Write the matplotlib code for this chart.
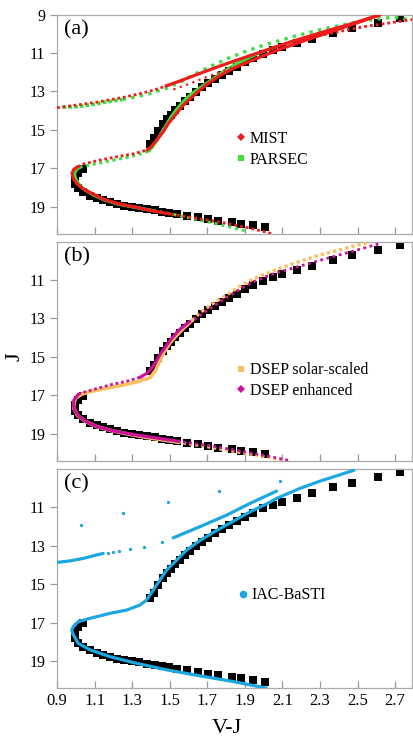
import matplotlib.pyplot as plt
from matplotlib.lines import Line2D

plt.rcParams['font.family'] = ['Liberation Serif', 'DejaVu Serif']

# Observed fiducial sequence (V-J, J)
fid = [(2.724, 9.17), (2.609, 9.42), (2.473, 9.71), (2.370, 9.95), (2.255, 10.26),
       (2.180, 10.49), (2.100, 10.70), (2.051, 10.87), (1.997, 11.05), (1.941, 11.27),
       (1.900, 11.49), (1.856, 11.71), (1.816, 11.92), (1.776, 12.14), (1.740, 12.35),
       (1.705, 12.58), (1.670, 12.79), (1.639, 13.01), (1.607, 13.27), (1.581, 13.48),
       (1.554, 13.74), (1.528, 13.96), (1.505, 14.21), (1.484, 14.43), (1.465, 14.69),
       (1.440, 15.04), (1.416, 15.43), (1.395, 15.72),
       (1.040, 17.02), (1.013, 17.24), (0.995, 17.52), (0.996, 17.80), (1.013, 18.05),
       (1.040, 18.25), (1.076, 18.43), (1.111, 18.56), (1.146, 18.67), (1.182, 18.77),
       (1.218, 18.86), (1.256, 18.94), (1.297, 18.99), (1.338, 19.06), (1.377, 19.13),
       (1.420, 19.19), (1.457, 19.25), (1.497, 19.32), (1.537, 19.39), (1.590, 19.48),
       (1.652, 19.56), (1.705, 19.64), (1.758, 19.72), (1.829, 19.81), (1.882, 19.89),
       (1.941, 19.96), (2.006, 20.07)]

# MIST isochrone pieces
mist_ms = [(2.04, 20.39), (1.97, 20.22), (1.91, 20.08), (1.85, 19.96), (1.79, 19.84),
           (1.73, 19.74), (1.67, 19.65), (1.59, 19.52), (1.50, 19.38)]
mist_lower = [(1.50, 19.38), (1.41, 19.22), (1.32, 19.03), (1.22, 18.83), (1.15, 18.62),
              (1.09, 18.33), (1.04, 18.07), (1.005, 17.80), (0.985, 17.50), (0.980, 17.25),
              (0.99, 17.05), (1.01, 16.92)]
mist_sgb = [(1.01, 16.92), (1.04, 16.78), (1.13, 16.57), (1.22, 16.40), (1.31, 16.24), (1.38, 16.05)]
mist_rgb = [(1.38, 16.05), (1.40, 15.89), (1.43, 15.55), (1.465, 15.11), (1.492, 14.68),
            (1.528, 14.25), (1.563, 13.82), (1.60, 13.45), (1.65, 13.02), (1.70, 12.62),
            (1.76, 12.22), (1.83, 11.84), (1.91, 11.50), (2.00, 11.14), (2.10, 10.76),
            (2.20, 10.42), (2.32, 10.02), (2.46, 9.56), (2.62, 9.02)]
mist_agb = [(1.48, 12.72), (1.554, 12.46), (1.643, 12.13), (1.731, 11.81), (1.82, 11.50),
            (1.909, 11.20), (2.00, 10.90), (2.086, 10.61), (2.175, 10.33), (2.263, 10.07),
            (2.35, 9.81), (2.441, 9.56), (2.53, 9.29), (2.62, 9.02)]
mist_hb = [(0.90, 13.85), (0.99, 13.73), (1.10, 13.58), (1.25, 13.32), (1.35, 13.10),
           (1.42, 12.92), (1.48, 12.72)]
mist_tip = [(2.14, 10.42), (2.35, 9.99), (2.53, 9.64), (2.71, 9.38), (2.79, 9.26)]
mist_pulse = [(1.52, 12.90), (1.60, 12.62), (1.68, 12.32), (1.76, 12.02), (1.83, 11.76)]

# PARSEC isochrone pieces
parsec_ms = [(1.90, 20.25), (1.80, 20.00), (1.705, 19.79), (1.60, 19.57), (1.51, 19.38), (1.42, 19.22)]
parsec_lower = [(1.42, 19.22), (1.32, 19.04), (1.22, 18.85), (1.15, 18.64), (1.09, 18.37),
                (1.045, 18.10), (1.015, 17.82), (0.997, 17.52), (0.993, 17.27), (1.003, 17.07),
                (1.02, 16.95)]
parsec_sgb = [(1.02, 16.95), (1.08, 16.82), (1.16, 16.66), (1.25, 16.48), (1.33, 16.30), (1.39, 16.10)]
parsec_rgb = [(1.39, 16.10), (1.41, 15.85), (1.435, 15.50), (1.46, 15.10), (1.485, 14.70),
              (1.51, 14.30), (1.54, 13.90), (1.575, 13.50), (1.62, 13.10), (1.661, 12.82),
              (1.72, 12.42), (1.785, 11.98), (1.85, 11.60), (1.91, 11.30), (1.98, 10.98),
              (2.06, 10.70)]
parsec_hb = [(0.93, 13.82), (1.00, 13.80), (1.08, 13.70), (1.16, 13.55), (1.25, 13.42)]
parsec_agb = [(1.25, 13.42), (1.33, 13.27), (1.40, 13.10), (1.48, 12.85), (1.56, 12.50),
              (1.65, 12.02), (1.73, 11.64), (1.82, 11.24), (1.91, 10.90), (2.00, 10.60),
              (2.175, 10.10), (2.35, 9.68), (2.53, 9.33), (2.65, 9.18), (2.71, 9.16), (2.78, 9.28)]

# DSEP solar-scaled
dsep_ss_ms = [(2.10, 20.38), (1.95, 20.10), (1.80, 19.85), (1.65, 19.60), (1.55, 19.45)]
dsep_ss_main = [(1.55, 19.45), (1.38, 19.20), (1.28, 19.02), (1.19, 18.84), (1.11, 18.62),
                (1.05, 18.35), (1.01, 18.05), (0.99, 17.70), (0.99, 17.40), (1.00, 17.15),
                (1.03, 16.95), (1.08, 16.80), (1.16, 16.64), (1.25, 16.47), (1.33, 16.29),
                (1.395, 16.09), (1.425, 15.70), (1.448, 15.20), (1.47, 14.75), (1.50, 14.30),
                (1.535, 13.90), (1.575, 13.50), (1.62, 13.10)]
dsep_ss_upper = [(1.62, 13.10), (1.661, 12.71), (1.73, 12.22), (1.80, 11.80), (1.87, 11.35),
                 (1.944, 10.95), (2.07, 10.45), (2.193, 10.03), (2.30, 9.70), (2.405, 9.43),
                 (2.50, 9.18), (2.57, 9.02)]

# DSEP alpha-enhanced
dsep_en_ms = [(2.13, 20.38), (2.00, 20.12), (1.85, 19.85), (1.70, 19.60), (1.55, 19.40)]
dsep_en_lower = [(1.55, 19.40), (1.40, 19.18), (1.30, 19.03), (1.20, 18.85), (1.12, 18.65),
                 (1.06, 18.40), (1.02, 18.12), (0.995, 17.80), (0.987, 17.50), (0.99, 17.25),
                 (1.013, 16.95)]
dsep_en_sgb = [(1.013, 16.95), (1.05, 16.82), (1.093, 16.70), (1.182, 16.46), (1.27, 16.27), (1.341, 16.07)]
dsep_en_rgb = [(1.341, 16.07), (1.38, 15.85), (1.41, 15.50), (1.43, 15.20), (1.45, 14.85),
               (1.48, 14.45), (1.51, 14.05), (1.55, 13.60), (1.60, 13.20)]
dsep_en_upper = [(1.60, 13.20), (1.661, 12.85), (1.75, 12.25), (1.85, 11.62), (1.944, 11.10),
                 (2.06, 10.65), (2.193, 10.28), (2.30, 9.98), (2.405, 9.69), (2.52, 9.38), (2.627, 9.08)]

# IAC-BaSTI
basti_main = [(2.015, 20.40), (1.838, 20.06), (1.661, 19.76), (1.483, 19.45), (1.306, 19.07),
              (1.182, 18.76), (1.076, 18.41), (1.013, 18.07), (0.983, 17.55), (0.978, 17.38),
              (0.987, 17.20), (1.013, 16.94), (1.076, 16.77), (1.182, 16.51), (1.271, 16.34),
              (1.341, 16.08), (1.377, 15.82), (1.412, 15.30), (1.448, 14.78), (1.483, 14.26),
              (1.537, 13.74), (1.59, 13.22), (1.661, 12.72), (1.749, 12.20), (1.838, 11.72),
              (1.927, 11.23), (2.015, 10.82), (2.069, 10.53), (2.193, 10.01), (2.30, 9.63),
              (2.40, 9.32), (2.481, 9.06)]
basti_agb = [(1.519, 12.58), (1.661, 12.00), (1.803, 11.40), (1.927, 10.79), (2.069, 10.15)]
basti_hb = [(0.90, 13.86), (0.97, 13.78), (1.04, 13.65), (1.10, 13.50), (1.146, 13.39)]
basti_hb_dots = [(1.173, 13.35), (1.20, 13.30), (1.231, 13.25), (1.288, 13.18),
                 (1.364, 13.05), (1.457, 12.80)]
basti_single = [(1.026, 11.92), (1.249, 11.31), (1.489, 10.74), (1.763, 10.15), (2.086, 9.62)]

red = '#ee1c1c'
green = '#3be03b'
orange = '#fbbf62'
magenta = '#cc1199'
blue = '#1ba7e0'


def draw(ax, pts, color, lw, dotted=False, gap=1.0, z=3):
    xs, js = zip(*pts)
    ls = (0, (1, gap)) if dotted else '-'
    ax.plot(xs, js, color=color, lw=lw, ls=ls, solid_capstyle='round', zorder=z)


fig = plt.figure(figsize=(4.14, 7.40), dpi=100)
left, width, height = 0.1377, 0.8575, 0.2966
ax_a = fig.add_axes([left, 0.6838, width, height])
ax_b = fig.add_axes([left, 0.3770, width, height])
ax_c = fig.add_axes([left, 0.0696, width, height])

for ax in (ax_a, ax_b, ax_c):
    fx, fj = zip(*fid)
    ax.plot(fx, fj, 's', color='black', ms=5.5, mew=0, zorder=2)
    ax.set_xlim(0.9, 2.79)
    ax.set_ylim(20.42, 9.0)
    ax.set_xticks([0.9, 1.1, 1.3, 1.5, 1.7, 1.9, 2.1, 2.3, 2.5, 2.7])
    ax.set_yticks([11, 13, 15, 17, 19])
    for s in ax.spines.values():
        s.set_color('#aaaaaa')
        s.set_linewidth(0.9)
    ax.tick_params(axis='y', direction='out', length=5, width=0.9, color='#999999', labelsize=11.5)
    ax.tick_params(axis='x', direction='in', length=5, width=0.9, color='#999999', labelsize=12)

ax_a.set_yticks([9, 11, 13, 15, 17, 19])
ax_a.tick_params(labelbottom=False)
ax_b.tick_params(labelbottom=False)

# (a) MIST and PARSEC
draw(ax_a, parsec_ms, green, 2.2, dotted=True, gap=1.3)
draw(ax_a, parsec_lower, green, 2.4)
draw(ax_a, parsec_sgb, green, 2.2, dotted=True, gap=1.2)
draw(ax_a, parsec_rgb, green, 2.4)
draw(ax_a, parsec_hb, green, 2.6, dotted=True, gap=0.6)
draw(ax_a, parsec_agb, green, 2.4, dotted=True, gap=1.6)
draw(ax_a, mist_ms, red, 2.0, dotted=True, gap=1.1, z=4)
draw(ax_a, mist_lower, red, 2.3, z=4)
draw(ax_a, mist_sgb, red, 2.0, dotted=True, gap=1.0, z=4)
draw(ax_a, mist_rgb, red, 2.3, z=4)
draw(ax_a, mist_agb, red, 2.3, z=4)
draw(ax_a, mist_hb, red, 2.0, dotted=True, gap=1.0, z=4)
draw(ax_a, mist_tip, red, 2.0, dotted=True, gap=1.1, z=4)
draw(ax_a, mist_pulse, red, 1.6, dotted=True, gap=2.0, z=4)

# (b) DSEP
draw(ax_b, dsep_ss_ms, orange, 2.2, dotted=True, gap=1.0)
draw(ax_b, dsep_ss_main, orange, 2.6)
draw(ax_b, dsep_ss_upper, orange, 2.4, dotted=True, gap=0.9)
draw(ax_b, dsep_en_ms, magenta, 2.0, dotted=True, gap=1.2, z=4)
draw(ax_b, dsep_en_lower, magenta, 2.3, z=4)
draw(ax_b, dsep_en_sgb, magenta, 2.0, dotted=True, gap=1.0, z=4)
draw(ax_b, dsep_en_rgb, magenta, 2.3, z=4)
draw(ax_b, dsep_en_upper, magenta, 2.0, dotted=True, gap=1.3, z=4)

# (c) IAC-BaSTI
draw(ax_c, basti_main, blue, 2.3)
draw(ax_c, basti_agb, blue, 2.3)
draw(ax_c, basti_hb, blue, 2.3)
hx, hj = zip(*basti_hb_dots)
ax_c.plot(hx, hj, 'o', color=blue, ms=2.4, mew=0, zorder=3)
sx, sj = zip(*basti_single)
ax_c.plot(sx, sj, 'o', color=blue, ms=2.4, mew=0, zorder=3)

# panel tags
for ax, tag in ((ax_a, '(a)'), (ax_b, '(b)'), (ax_c, '(c)')):
    ax.text(0.02, 0.975, tag, transform=ax.transAxes, fontsize=16, va='top', ha='left')

# legends
leg_kw = dict(loc='upper left', frameon=False, fontsize=11.5, handlelength=0.6,
              handletextpad=0.25, labelspacing=0.3, borderpad=0, borderaxespad=0)
ax_a.legend(handles=[Line2D([], [], ls='', marker='D', color=red, ms=4, mew=0, label='MIST'),
                     Line2D([], [], ls='', marker='s', color=green, ms=5, mew=0, label='PARSEC')],
            bbox_to_anchor=(0.505, 0.47), **leg_kw)
ax_b.legend(handles=[Line2D([], [], ls='', marker='s', color=orange, ms=5, mew=0, label='DSEP solar-scaled'),
                     Line2D([], [], ls='', marker='D', color=magenta, ms=4, mew=0, label='DSEP enhanced')],
            bbox_to_anchor=(0.505, 0.45), **leg_kw)
ax_c.legend(handles=[Line2D([], [], ls='', marker='o', color=blue, ms=5.5, mew=0, label='IAC-BaSTI')],
            bbox_to_anchor=(0.51, 0.462), **leg_kw)

fig.text(0.036, 0.5176, 'J', rotation=90, fontsize=16, ha='center', va='center')
fig.text(0.548, 0.016, 'V-J', fontsize=16, ha='center', va='center')

plt.savefig('out.png', dpi=100)
